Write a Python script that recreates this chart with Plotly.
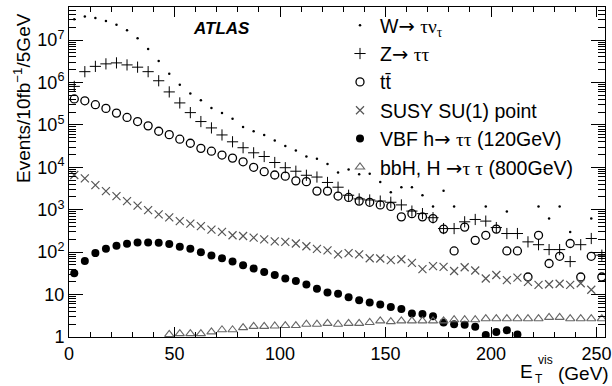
import plotly.graph_objects as go

# bin centres (GeV), 5 GeV bins
bin_centers = [2.5, 7.5, 12.5, 17.5, 22.5, 27.5, 32.5, 37.5, 42.5, 47.5,
               52.5, 57.5, 62.5, 67.5, 72.5, 77.5, 82.5, 87.5, 92.5, 97.5,
               102.5, 107.5, 112.5, 117.5, 122.5, 127.5, 132.5, 137.5, 142.5, 147.5,
               152.5, 157.5, 162.5, 167.5, 172.5, 177.5, 182.5, 187.5, 192.5, 197.5,
               202.5, 207.5, 212.5, 217.5, 222.5, 227.5, 232.5, 237.5, 242.5, 247.5,
               252.5]

w_taunu = [3.1e7, 3.6e7, 3.3e7, 2.8e7, 2.3e7, 1.7e7, 1.1e7, 6.2e6, 3.2e6, 1.6e6,
           8.9e5, 5.5e5, 3.8e5, 2.5e5, 1.9e5, 1.4e5, 8.9e4, 7.1e4, 5.8e4, 4.3e4,
           3.2e4, 2.5e4, 1.8e4, 1.6e4, 1.2e4, 7.6e3, 8.9e3, 6.9e3, 7.1e3, 4.5e3,
           2.6e3, 3.4e3, 3.4e3, 2.2e3, 1.2e3, 2.8e3, 1.2e3, None, None, 1.2e3,
           None, 910, None, None, 1.2e3, 620, 1.2e3, 300, None, 620,
           None]

z_tautau = [8.1e5, 1.8e6, 2.4e6, 2.75e6, 2.9e6, 2.6e6, 2.3e6, 1.8e6, 1.1e6, 6.0e5,
            3.3e5, 1.95e5, 1.2e5, 8.5e4, 5.8e4, 4.0e4, 2.9e4, 2.2e4, 1.8e4, 1.3e4,
            9.8e3, 8.1e3, 6.5e3, 5.9e3, 4.4e3, 3.4e3, 2.2e3, 1.8e3, 1.7e3, 1.6e3,
            1.5e3, 1.3e3, 930, 810, 650, 360, 360, 520, 590, 540,
            380, 275, 275, 175, 150, 115, 115, 60, 150, 210,
            85]

ttbar = [4.1e5, 3.7e5, 3.0e5, 2.45e5, 1.9e5, 1.5e5, 1.2e5, 9.5e4, 7.1e4, 5.9e4,
         4.6e4, 3.7e4, 2.8e4, 2.4e4, 1.95e4, 1.65e4, 1.35e4, 1.0e4, 7.9e3, 6.6e3,
         6.2e3, 4.8e3, 4.6e3, 2.75e3, 2.75e3, 2.1e3, 1.95e3, 1.6e3, 1.5e3, 1.3e3,
         1.2e3, 680, 810, 680, 620, 350, 107, 390, 190, 250,
         350, 107, 107, 26, 250, 54, 80, 160, 26, 80,
         26]

susy_su1 = [6.6e3, 5.5e3, 3.8e3, 2.75e3, 2.1e3, 1.6e3, 1.25e3, 980, 780, 660,
            540, 470, 410, 340, 300, 250, 240, 220, 200, 180,
            175, 160, 138, 120, 110, 89, 95, 89, 72, 71,
            65, 68, 56, 40, 47, 45, 36, 44, 37, 24,
            29, 22, 25, 20, 17, 17.5, 18, 17, 18.5, 13,
            None]

vbf_h120 = [32, 62, 95, 120, 141, 158, 170, 170, 166, 155,
            135, 120, 100, 83, 72, 60, 49, 41, 34, 29,
            24, 21, 17.4, 13.8, 11.2, 10.5, 8.7, 7.4, 6.5, 5.8,
            5.1, 4.6, 3.6, 3.5, 3.1, 2.2, 2.0, 1.95, 1.75, 1.12,
            1.32, 1.45, 1.15, None, None, None, None, None, None, None,
            None]

bbh_h800 = [None, None, None, None, None, None, None, None, None, 1.15,
            1.2, 1.2, 1.2, 1.32, 1.48, 1.48, 1.66, 1.78, 1.78, 1.82,
            1.86, 1.86, 2.0, 2.0, 2.1, 2.0, 2.1, 2.1, 2.2, 2.4,
            2.3, 2.4, 2.4, 2.4, 2.4, 2.4, 2.55, 2.55, 2.55, 2.7,
            2.7, 2.7, 2.7, 2.7, 2.7, 2.9, 2.9, 2.7, 2.7, 2.7,
            2.7]

y_tickvals = [1, 10, 100, 1e3, 1e4, 1e5, 1e6, 1e7]
y_ticktext = ["1", "10", "10<sup>2</sup>", "10<sup>3</sup>", "10<sup>4</sup>",
              "10<sup>5</sup>", "10<sup>6</sup>", "10<sup>7</sup>"]
x_tickvals = [0, 50, 100, 150, 200, 250]

GR = "<span style='font-family:Liberation Serif'>"
AR = "<span style='font-family:DejaVu Sans'>\u2192</span>"
names = [
    "W" + AR + " " + GR + "\u03c4\u03bd<sub>\u03c4</sub></span>",
    "Z" + AR + " " + GR + "\u03c4\u03c4</span>",
    "tt\u0304",
    "SUSY SU(1) point",
    "VBF h" + AR + " " + GR + "\u03c4\u03c4</span> (120GeV)",
    "bbH, H " + AR + GR + "\u03c4 \u03c4</span> (800GeV)",
]

FONT = "Liberation Sans, Arial, sans-serif"

fig = go.Figure()
fig.add_trace(go.Scatter(x=bin_centers, y=w_taunu, mode="markers", name=names[0],
                         marker=dict(symbol="circle", size=2.5, color="black")))
fig.add_trace(go.Scatter(x=bin_centers, y=z_tautau, mode="markers", name=names[1],
                         marker=dict(symbol="cross-thin", size=8, color="black",
                                     line=dict(width=1, color="black"))))
fig.add_trace(go.Scatter(x=bin_centers, y=ttbar, mode="markers", name=names[2],
                         marker=dict(symbol="circle-open", size=8, color="black",
                                     line=dict(width=1.3, color="black"))))
fig.add_trace(go.Scatter(x=bin_centers, y=susy_su1, mode="markers", name=names[3],
                         marker=dict(symbol="x-thin", size=8, color="#555555",
                                     line=dict(width=1.2, color="#555555"))))
fig.add_trace(go.Scatter(x=bin_centers, y=vbf_h120, mode="markers", name=names[4],
                         marker=dict(symbol="circle", size=8, color="black")))
fig.add_trace(go.Scatter(x=bin_centers, y=bbh_h800, mode="markers", name=names[5],
                         marker=dict(symbol="triangle-up-open", size=8, color="#666666",
                                     line=dict(width=1.1, color="#666666"))))

L, R, T, B = 69, 7, 7, 49
W_, H_ = 612, 386
PW, PH = W_ - L - R, H_ - T - B


def px(xp):
    return (xp - L) / PW


def py(yp):
    return (H_ - B - yp) / PH


fig.update_layout(
    width=W_, height=H_,
    margin=dict(l=L, r=R, t=T, b=B, autoexpand=False),
    paper_bgcolor="white", plot_bgcolor="white",
    font=dict(family=FONT, size=18, color="black"),
    showlegend=True,
    legend=dict(x=px(340), y=py(6), xanchor="left", yanchor="top",
                bgcolor="rgba(0,0,0,0)", font=dict(size=19.5, family=FONT),
                tracegroupgap=0, itemsizing="trace"),
    xaxis=dict(range=[0, 254], tickvals=x_tickvals, ticks="inside", ticklen=10,
               tickwidth=1, tickcolor="black", showline=True, linecolor="black",
               linewidth=1, mirror="ticks", showgrid=False, zeroline=False,
               automargin=False, tickfont=dict(size=18, family=FONT),
               minor=dict(dtick=10, ticks="inside", ticklen=5, tickcolor="black",
                          showgrid=False)),
    yaxis=dict(type="log", range=[0, 7.78], tickvals=y_tickvals, ticktext=y_ticktext,
               ticks="inside", ticklen=14, tickwidth=1, tickcolor="black",
               showline=True, linecolor="black", linewidth=1, mirror="ticks",
               showgrid=False, zeroline=False, automargin=False,
               tickfont=dict(size=18, family=FONT),
               minor=dict(dtick="D1", ticks="inside", ticklen=7, tickcolor="black",
                          showgrid=False)),
)

ann = [
    dict(text="<b><i>ATLAS</i></b>", x=px(221), y=py(29), size=17),
    dict(text="Events/10fb<sup>\u22121</sup>/5GeV", x=px(22), y=py(98), size=19, angle=-90),
    dict(text="E", x=px(526), y=py(372), size=19),
    dict(text="vis", x=px(545), y=py(360), size=12),
    dict(text="T", x=px(539), y=py(379), size=12),
    dict(text="(GeV)", x=px(583), y=py(373), size=19),
]
for a in ann:
    fig.add_annotation(text=a["text"], x=a["x"], y=a["y"], xref="paper", yref="paper",
                       xanchor="center", yanchor="middle", showarrow=False,
                       textangle=a.get("angle", 0),
                       font=dict(size=a["size"], family=FONT, color="black"))

fig.write_html("out.html", config={"displayModeBar": False},
               post_script="document.body.style.margin='0';document.body.style.overflow='hidden';")
